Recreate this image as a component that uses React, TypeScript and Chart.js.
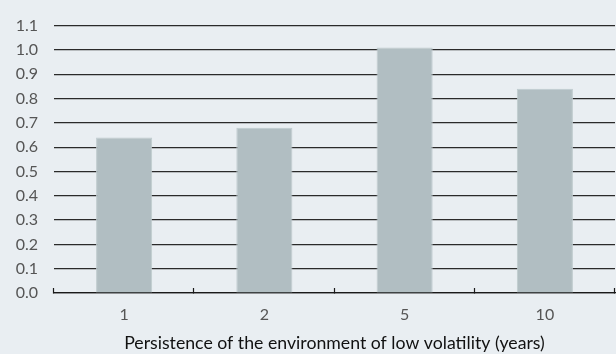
import React, { useEffect, useRef } from "react";
import { Chart, registerables } from "chart.js";

Chart.register(...registerables);

const categories = ["1", "2", "5", "10"];
const values = [0.64, 0.68, 1.01, 0.84];
const yTicks = [0, 0.1, 0.2, 0.3, 0.4, 0.5, 0.6, 0.7, 0.8, 0.9, 1.0, 1.1];
const xTitle = "Persistence of the environment of low volatility (years)";

const BG = "#e9eef2";
const FONT = "Lato, 'Noto Sans', sans-serif";

const innerTicks = {
  id: "innerTicks",
  afterDraw(chart: any) {
    const x = chart.scales.x;
    const ctx = chart.ctx;
    const n = chart.data.labels.length;
    ctx.save();
    ctx.strokeStyle = "#1a1a1a";
    ctx.lineWidth = 1.2;
    for (let i = 0; i <= n; i++) {
      const px = Math.round(x.left + ((x.right - x.left) * i) / n) - 0.5;
      ctx.beginPath();
      ctx.moveTo(px, x.top + 0.5);
      ctx.lineTo(px, x.top - 5);
      ctx.stroke();
    }
    ctx.restore();
  },
};

export default function App() {
  const ref = useRef<HTMLCanvasElement>(null);
  useEffect(() => {
    document.body.style.margin = "0";
    const chart = new Chart(ref.current!, {
      type: "bar",
      data: {
        labels: categories,
        datasets: [
          {
            data: values,
            backgroundColor: "#b1bec2",
            borderColor: "#bfcbce",
            borderWidth: 1,
            barPercentage: 0.4,
            categoryPercentage: 1,
          },
        ],
      },
      options: {
        animation: false,
        responsive: false,
        maintainAspectRatio: false,
        layout: { padding: { top: 18, right: 1, left: 0, bottom: 0 } },
        plugins: { legend: { display: false }, tooltip: { enabled: false } },
        scales: {
          x: {
            afterFit: (s: any) => {
              s.height = 61;
            },
            grid: { display: false, drawTicks: false },
            border: { display: true, color: "#1a1a1a", width: 1.2 },
            ticks: { color: "#555", font: { family: FONT, size: 16 }, padding: 12 },
            title: {
              display: true,
              text: xTitle,
              color: "#111",
              font: { family: FONT, size: 17.7 },
              padding: { top: 1, bottom: 0 },
            },
          },
          y: {
            min: 0,
            max: 1.1,
            afterFit: (s: any) => {
              s.width = 54;
            },
            afterBuildTicks: (s: any) => {
              s.ticks = yTicks.map((v) => ({ value: v }));
            },
            grid: { color: "#2a2a2a", lineWidth: 1.2, drawTicks: false },
            border: { display: false },
            ticks: {
              color: "#555",
              font: { family: FONT, size: 16 },
              padding: 16,
              callback: (v: any) => Number(v).toFixed(1),
            },
          },
        },
      },
      plugins: [innerTicks],
    });
    return () => chart.destroy();
  }, []);
  return (
    <div style={{ width: 616, height: 354, background: BG, position: "relative" }}>
      <canvas ref={ref} width={616} height={354} style={{ display: "block" }} />
    </div>
  );
}
